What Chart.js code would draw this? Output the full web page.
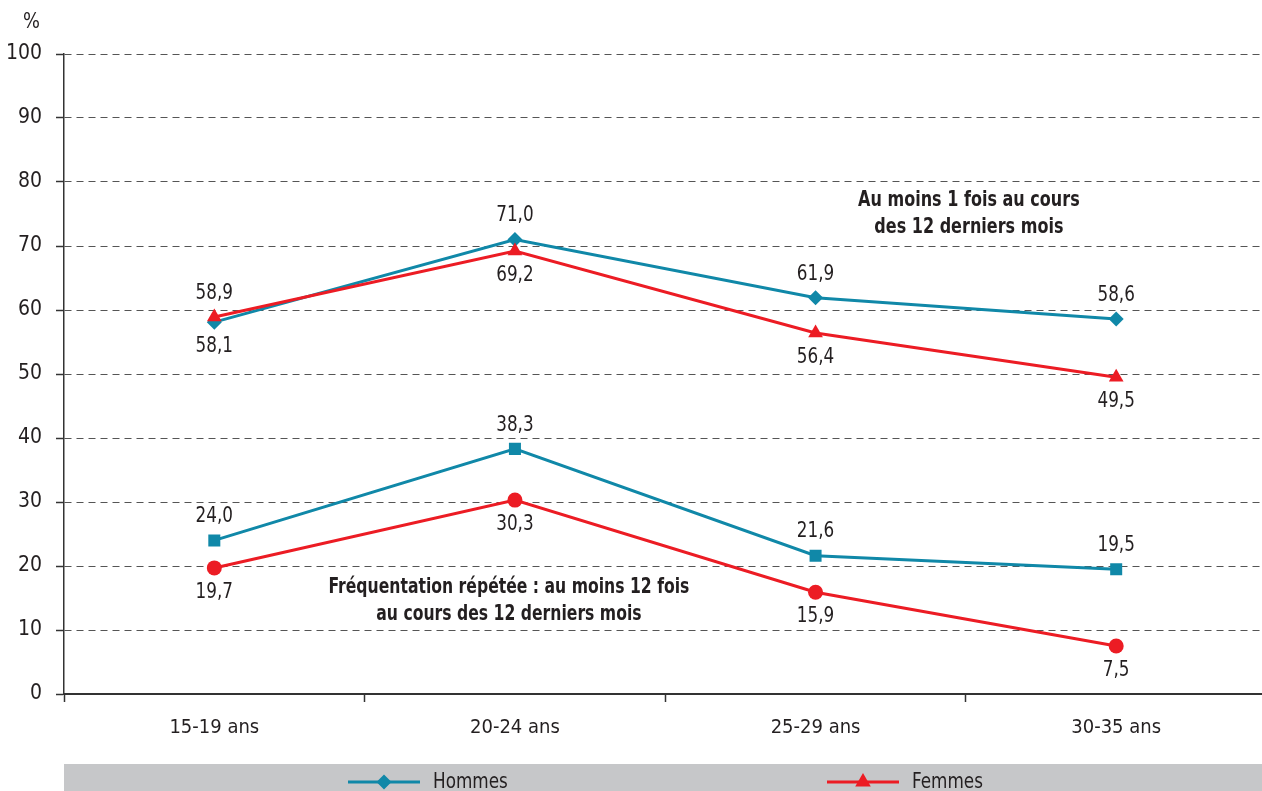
<!DOCTYPE html>
<html>
<head>
<meta charset="utf-8">
<script src="https://cdn.jsdelivr.net/npm/chart.js@4/dist/chart.umd.min.js"></script>
<style>
  html, body { margin: 0; padding: 0; background: #fff; overflow: hidden; }
  #wrap { width: 1275px; height: 791px; }
</style>
</head>
<body>
<div id="wrap"><canvas id="chart" width="1275" height="791"></canvas></div>
<script>
const categories = ["15-19 ans", "20-24 ans", "25-29 ans", "30-35 ans"];
const yTicks = [0, 10, 20, 30, 40, 50, 60, 70, 80, 90, 100];

// au moins 1 fois au cours des 12 derniers mois
const hommesAuMoins1 = [58.1, 71.0, 61.9, 58.6];
const femmesAuMoins1 = [58.9, 69.2, 56.4, 49.5];
// fréquentation répétée : au moins 12 fois
const hommesRepetee = [24.0, 38.3, 21.6, 19.5];
const femmesRepetee = [19.7, 30.3, 15.9, 7.5];

// label above (-1) or below (+1) the point
const hommes1Pos = [1, -1, -1, -1];
const femmes1Pos = [-1, 1, 1, 1];
const hommes2Pos = [-1, -1, -1, -1];
const femmes2Pos = [1, 1, 1, 1];

const legendLabels = ["Hommes", "Femmes"];
const noteTop = ["Au moins 1 fois au cours", "des 12 derniers mois"];
const noteBottom = ["Fréquentation répétée : au moins 12 fois", "au cours des 12 derniers mois"];

const TEAL = "#1088a8";
const RED = "#ec1c24";
const FONT = "'Liberation Sans Narrow', 'Arial Narrow', 'DejaVu Sans Condensed', sans-serif";
const TEXT = "#231f20";

const fr = (v) => v.toFixed(1).replace(".", ",");

// narrow text: draw with a horizontal squeeze
const narrowText = (ctx, str, x, y, sx) => {
    ctx.save();
    ctx.translate(x, y);
    ctx.scale(sx, 1);
    ctx.fillText(str, 0, 0);
    ctx.restore();
};

const makeSet = (label, data, color, style, radius, pos, order) => ({
    label: label,
    data: data,
    borderColor: color,
    backgroundColor: color,
    borderWidth: 3,
    pointStyle: style,
    pointRadius: radius,
    pointHoverRadius: radius,
    pointBorderWidth: 0,
    tension: 0,
    labelPos: pos,
    order: order,
});

const datasets = [
    makeSet("Hommes", hommesAuMoins1, TEAL, "rectRot", 7.5, hommes1Pos, 2),
    makeSet("Femmes", femmesAuMoins1, RED, "triangle", 8.5, femmes1Pos, 1),
    makeSet("Hommes", hommesRepetee, TEAL, "rect", 8.5, hommes2Pos, 2),
    makeSet("Femmes", femmesRepetee, RED, "circle", 7.5, femmes2Pos, 1),
];

const valueLabels = {
    id: "valueLabels",
    afterDatasetsDraw(chart) {
        const ctx = chart.ctx;
        ctx.save();
        ctx.font = "22px " + FONT;
        ctx.fillStyle = TEXT;
        ctx.textAlign = "center";
        ctx.textBaseline = "middle";
        chart.data.datasets.forEach((ds, i) => {
            const meta = chart.getDatasetMeta(i);
            meta.data.forEach((pt, j) => {
                narrowText(ctx, fr(ds.data[j]), pt.x, pt.y + ds.labelPos[j] * 24, 0.85);
            });
        });
        ctx.restore();
    }
};

const extras = {
    id: "extras",
    afterDraw(chart) {
        const ctx = chart.ctx;
        const xs = chart.scales.x;
        const ys = chart.scales.y;
        const area = chart.chartArea;
        ctx.save();

        // unit
        ctx.font = "22px " + FONT;
        ctx.fillStyle = TEXT;
        ctx.textAlign = "right";
        ctx.textBaseline = "middle";
        narrowText(ctx, "%", 40, ys.getPixelForValue(100) - 32, 0.9);

        // notes
        ctx.font = "bold 22px " + FONT;
        ctx.textAlign = "center";
        const topX = xs.getPixelForValue(2.51);
        narrowText(ctx, noteTop[0], topX, ys.getPixelForValue(77.2), 0.81);
        narrowText(ctx, noteTop[1], topX, ys.getPixelForValue(73.0), 0.81);
        const botX = xs.getPixelForValue(0.98);
        narrowText(ctx, noteBottom[0], botX, ys.getPixelForValue(16.6), 0.79);
        narrowText(ctx, noteBottom[1], botX, ys.getPixelForValue(12.4), 0.79);

        // legend band
        const bandTop = area.bottom + 70;
        ctx.fillStyle = "#c6c7c9";
        ctx.fillRect(area.left, bandTop, chart.width - area.left, 60);
        const cy = bandTop + 18;
        const items = [
            { x: 348, color: TEAL, style: "rectRot", r: 7.5, text: legendLabels[0] },
            { x: 827, color: RED, style: "triangle", r: 9, text: legendLabels[1] },
        ];
        items.forEach(it => {
            ctx.strokeStyle = it.color;
            ctx.lineWidth = 3;
            ctx.beginPath();
            ctx.moveTo(it.x, cy);
            ctx.lineTo(it.x + 72, cy);
            ctx.stroke();
            ctx.fillStyle = it.color;
            Chart.helpers.drawPoint(ctx, { pointStyle: it.style, radius: it.r, borderWidth: 0 }, it.x + 36, cy);
            ctx.fillStyle = TEXT;
            ctx.font = "22px " + FONT;
            ctx.textAlign = "left";
            ctx.textBaseline = "middle";
            narrowText(ctx, it.text, it.x + 85, cy, 0.85);
        });
        ctx.restore();
    }
};

new Chart(document.getElementById("chart"), {
    type: "line",
    data: { labels: categories, datasets: datasets },
    options: {
        responsive: false,
        animation: false,
        events: [],
        layout: { padding: { top: 54, right: 4, bottom: 46, left: 0 } },
        plugins: {
            legend: { display: false },
            tooltip: { enabled: false },
        },
        scales: {
            x: {
                type: "category",
                offset: true,
                afterFit: (s) => { s.height = 51; },
                grid: {
                    offset: true,
                    drawOnChartArea: false,
                    drawTicks: true,
                    tickLength: 8,
                    tickColor: "#333",
                    tickWidth: 1.5,
                },
                border: { display: true, color: "#333", width: 2 },
                ticks: {
                    color: TEXT,
                    font: { family: FONT, size: 20 },
                    padding: 14,
                    maxRotation: 0,
                },
            },
            y: {
                min: 0,
                max: 100,
                afterFit: (s) => { s.width = 64; },
                afterBuildTicks: (s) => { s.ticks = yTicks.map(v => ({ value: v })); },
                grid: {
                    color: (c) => c.tick && c.tick.value === 0 ? "rgba(0,0,0,0)" : "#555",
                    lineWidth: 1,
                    drawTicks: true,
                    tickLength: 8,
                    tickColor: "#333",
                    tickWidth: 1.5,
                    tickBorderDash: [],
                },
                border: { display: true, color: "#333", width: 1.5, dash: [7, 5] },
                ticks: {
                    color: TEXT,
                    font: { family: FONT, size: 21 },
                    padding: 14,
                    callback: (v) => v,
                },
            },
        },
    },
    plugins: [valueLabels, extras],
});
</script>
</body>
</html>
